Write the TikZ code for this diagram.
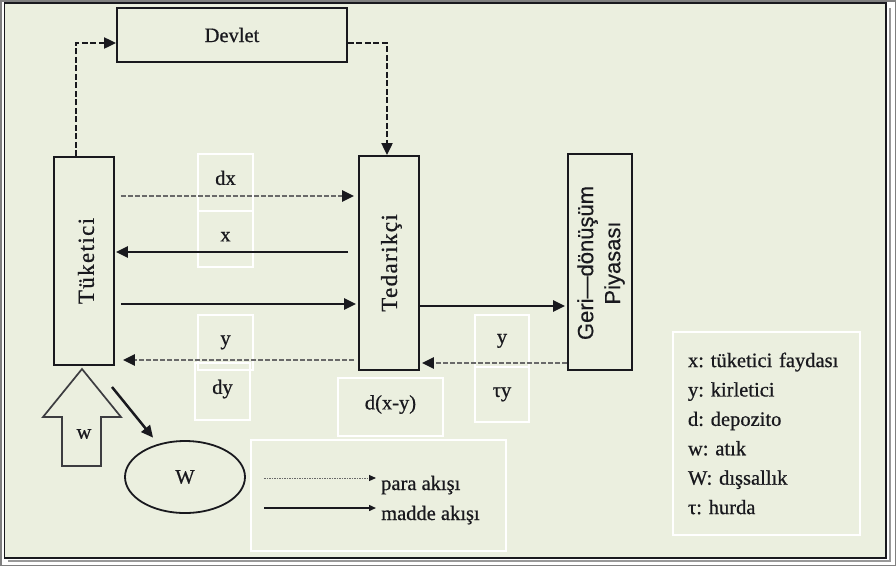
\documentclass[tikz,border=0pt]{standalone}
\usepackage{fontspec}
\setmainfont{Liberation Serif}[FakeBold=0.7]
\newfontfamily\gerifont{Liberation Sans}[FakeBold=0.4]
\usetikzlibrary{arrows.meta,shapes.geometric}
\definecolor{bg}{RGB}{235,239,223}
\definecolor{ink}{RGB}{25,25,30}
\definecolor{dgray}{RGB}{105,105,105}
\frenchspacing
\begin{document}
\begin{tikzpicture}[x=1pt,y=-1pt,
  every node/.style={font=\fontsize{20.5}{24}\selectfont, text=ink},
  box/.style={draw=ink, line width=1.9pt, inner sep=0pt},
  lbl/.style={draw=white, line width=1.1pt, inner sep=0pt, text height=0.68em, text depth=0.2em},
  tipA/.style={-{Triangle[length=12pt,width=11pt,color=ink]}},
  money/.style={draw=dgray, line width=2.8pt, dash pattern=on 5pt off 2pt, tipA},
  goods/.style={draw=ink, line width=2.5pt, tipA},
  gov/.style={draw=ink, line width=2.2pt, dash pattern=on 6pt off 2.5pt, tipA},
  rottext/.style={rotate=90, inner sep=0pt, font=\fontsize{23}{27}\selectfont\addfontfeature{LetterSpace=6}},
  legtip/.style={-{Triangle[length=7pt,width=6pt,color=ink]}},
]
\path[use as bounding box] (0,0) rectangle (896,566);
\fill[white] (0,0) rectangle (896,566);
\draw[gray, line width=1.5pt] (0.75,0.75) rectangle (895.25,565.25);
\draw[gray!80, line width=1.2pt] (890,8) -- (890,561) -- (8,561);
\draw[fill=bg, draw=ink, line width=1.6pt] (4.5,3) rectangle (886,558);

% main boxes
\node[box, minimum width=230pt, minimum height=54pt] (dev) at (232,35) {Devlet};
\node[box, minimum width=60pt, minimum height=208pt] (tuk) at (84,261) {};
\node[rottext] (tuktxt) at (86,261) {Tüketici};
\node[box, minimum width=60pt, minimum height=214pt] (ted) at (389,263) {};
\node[rottext, text depth=0pt] (tedtxt) at (389,263) {Tedarikçi};
\node[box, minimum width=64pt, minimum height=216pt] (geri) at (600,262) {};
\node[rotate=90, align=center, inner sep=0pt, font=\gerifont\fontsize{22}{27}\selectfont] (geritxt) at (601,263) {Geri—dönüşüm\\Piyasası};

% label boxes
\node[lbl, minimum width=55pt, minimum height=57pt] (ldx) at (225.5,182.5) {dx};
\node[lbl, minimum width=55pt, minimum height=56pt] (lx) at (225.5,239) {x};
\node[lbl, minimum width=55pt, minimum height=55pt] (ly) at (225.5,342.5) {y};
\node[lbl, minimum width=55pt, minimum height=57pt] (ldy) at (222.5,391.5) {dy};
\node[lbl, minimum width=105pt, minimum height=58pt] (ldxy) at (390.5,407) {d(x-y)};
\node[lbl, minimum width=54pt, minimum height=52pt] (ry) at (502,341) {y};
\node[lbl, minimum width=54pt, minimum height=55pt] (rty) at (502,394.5) {τy};

% government flows
\draw[gov] ([xshift=-8pt]tuk.north) |- ([yshift=-8pt]dev.west);
\draw[gov] ([yshift=-8pt]dev.east) -| ([xshift=-2pt]ted.north);

% horizontal flows
\draw[money, shorten <=6pt, shorten >=4pt] (tuk.east |- 0,196) -- (ted.west |- 0,196);
\draw[goods, shorten <=10pt, shorten >=1pt] (ted.west |- 0,252) -- (tuk.east |- 0,252);
\draw[goods, shorten <=6pt, shorten >=2pt] (tuk.east |- 0,304) -- (ted.west |- 0,304);
\draw[money, shorten <=4pt, shorten >=8pt] (ted.west |- 0,360) -- (tuk.east |- 0,360);
\draw[goods, shorten >=2pt] (ted.east |- 0,306) -- (geri.west |- 0,306);
\draw[money, shorten >=2pt] (geri.west |- 0,363) -- (ted.east |- 0,363);

% waste arrow
\draw[draw=ink!85, line width=1.7pt, fill=bg] (82,369) -- (121,417) -- (101,417) -- (101,466) -- (62,466) -- (62,417) -- (43,417) -- cycle;
\node (wl) at (84,434) {w};

% externality
\node[ellipse, draw=ink, line width=1.8pt, minimum width=120pt, minimum height=72pt, inner sep=0pt] (W) at (185,477) {W};
\coordinate (ws) at (112,387);
\draw[goods, shorten >=8pt] (ws) -- (W);

% flow legend
\node[draw=white, line width=1.1pt, minimum width=255pt, minimum height=111pt] (flow) at (378.5,495.5) {};
\node[anchor=base west, inner sep=0pt] (para) at (381,490) {para akışı};
\node[anchor=base west, inner sep=0pt] (madde) at (381,520) {madde akışı};
\draw[draw=dgray, line width=1pt, dash pattern=on 1.5pt off 1pt, legtip, shorten <=14pt, shorten >=5pt] (flow.west |- 0,478) -- (para.west |- 0,478);
\draw[draw=ink, line width=1.4pt, legtip, shorten <=14pt, shorten >=5pt] (flow.west |- 0,508) -- (madde.west |- 0,508);

% symbol legend
\node[draw=white, line width=1.1pt, text width=157pt, inner xsep=15pt, minimum height=203pt, align=left, font=\fontsize{20.5}{29.4}\selectfont] (key) at (766.5,433.5) {x: tüketici faydası\\ y: kirletici\\ d: depozito\\ w: atık\\ W: dışsallık\\ τ: hurda};
\end{tikzpicture}
\end{document}
